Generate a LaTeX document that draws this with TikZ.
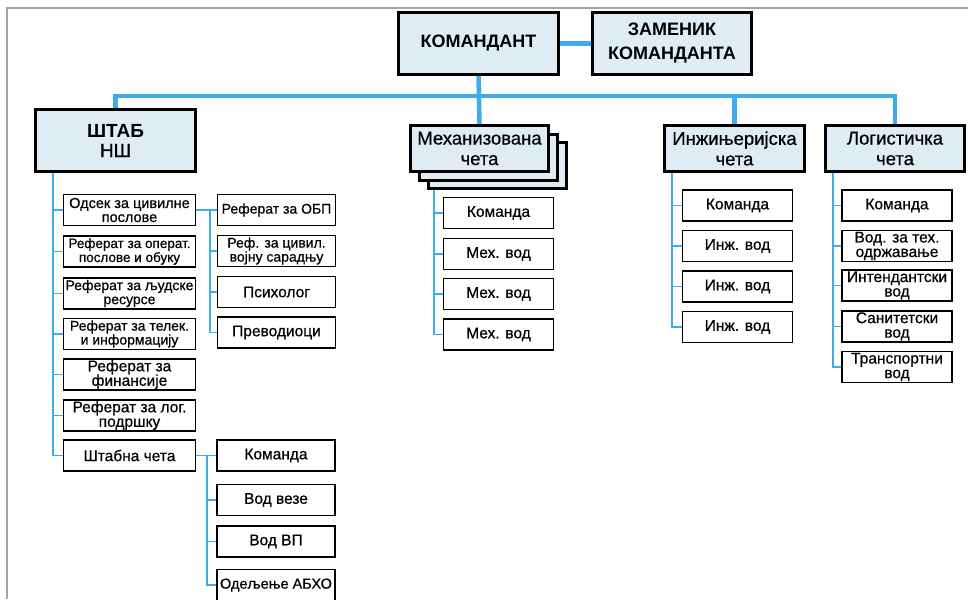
\documentclass[tikz,border=0pt]{standalone}
\usepackage{fontspec}
\setmainfont{Liberation Sans}[UprightFeatures={FakeBold=0.6}]

\definecolor{linkblue}{RGB}{62,172,235}
\definecolor{headfill}{RGB}{224,236,244}
\definecolor{framegray}{RGB}{165,165,165}

\tikzstyle{headbox} = [draw, line width=3pt, fill=headfill, align=center, inner sep=0]
\tikzstyle{chetabox} = [headbox, minimum height=46pt, font=\fontsize{18.5}{20.5}\selectfont]
\tikzstyle{unitbox} = [draw, line width=1.4pt, fill=white, align=center, inner sep=0,
                       minimum height=31pt, font=\fontsize{15.5}{14.5}\selectfont]
\tikzstyle{stabunit} = [unitbox, minimum width=131.5pt]
\tikzstyle{sideunit} = [unitbox, minimum width=118pt]
\tikzstyle{vodunit} = [unitbox, minimum width=110pt]
\tikzstyle{narrow} = [font=\fontsize{14}{14}\selectfont]
\tikzstyle{narrower} = [font=\fontsize{13.5}{14}\selectfont]
\tikzstyle{bus} = [linkblue, line width=4.5pt]
\tikzstyle{branch} = [linkblue, line width=1.3pt]

\begin{document}
\begin{tikzpicture}[x=1pt, y=-1pt]
  \useasboundingbox (0,0) rectangle (968,599);
  \draw[framegray, line width=1.2pt] (7,599) -- (7,8) -- (968,8);

  % command level
  \node at (478.5, 43.5) [headbox, minimum width=160pt, minimum height=62pt,
        font=\fontsize{18}{24}\selectfont\bfseries] (kom) {КОМАНДАНТ};
  \node at (672, 43.5) [headbox, minimum width=159pt, minimum height=62pt,
        font=\fontsize{18}{24}\selectfont\bfseries] (zam) {ЗАМЕНИК\\КОМАНДАНТА};

  \node at (115.5, 140.5) [headbox, minimum width=160pt, minimum height=62pt,
        font=\fontsize{19}{20}\selectfont] (stab) {\textbf{ШТАБ}\\НШ};

  \node at (497.5, 165.5) [chetabox, minimum width=138pt] (mech3) {};
  \node at (488.5, 157) [chetabox, minimum width=138pt] (mech2) {};
  \node at (479.5, 148.5) [chetabox, minimum width=138pt] (mech) {Механизована\\чета};
  \node at (734.5, 148.5) [chetabox, minimum width=140pt] (inz) {Инжињеријска\\чета};
  \node at (895, 148.5) [chetabox, minimum width=139pt] (log) {Логистичка\\чета};

  % staff
  \node at (129.5, 210) [stabunit, font=\fontsize{14.5}{14}\selectfont] (odsek) {Одсек за цивилне\\послове};
  \node at (129.5, 251.5) [stabunit, narrower] (oper) {Реферат за операт.\\послове и обуку};
  \node at (129.5, 293.5) [stabunit, narrow] (ljud) {Реферат за људске\\ресурсе};
  \node at (129.5, 334) [stabunit, narrow] (tel) {Реферат за телек.\\и информацију};
  \node at (129.5, 374.5) [stabunit] (fin) {Реферат за\\финансије};
  \node at (129.5, 415.5) [stabunit] (lpod) {Реферат за лог.\\подршку};
  \node at (129.5, 455.5) [stabunit] (stc) {Штабна чета};

  \node at (276.5, 210) [sideunit, narrow] (obp) {Реферат за ОБП};
  \node at (276.5, 251) [sideunit, narrow] (civ) {Реф. за цивил.\\војну сарадњу};
  \node at (276.5, 292) [sideunit] (psi) {Психолог};
  \node at (276.5, 332.5) [sideunit] (prev) {Преводиоци};

  \node at (276, 455.5) [sideunit] (stk) {Команда};
  \node at (276, 500) [sideunit] (vveze) {Вод везе};
  \node at (276, 541.5) [sideunit] (vvp) {Вод ВП};
  \node at (276, 585) [sideunit, font=\fontsize{14.5}{14}\selectfont] (abho) {Одељење АБХО};

  % companies
  \node at (498.5, 213) [vodunit] (mk) {Команда};
  \node at (498.5, 254) [vodunit] (mv1) {Мех. вод};
  \node at (498.5, 294) [vodunit] (mv2) {Мех. вод};
  \node at (498.5, 334.5) [vodunit] (mv3) {Мех. вод};

  \node at (737.5, 205.5) [vodunit] (ik) {Команда};
  \node at (737.5, 246) [vodunit] (iv1) {Инж. вод};
  \node at (737.5, 286.5) [vodunit] (iv2) {Инж. вод};
  \node at (737.5, 327) [vodunit] (iv3) {Инж. вод};

  \node at (897, 205.5) [vodunit] (lk) {Команда};
  \node at (897, 246) [vodunit] (lth) {Вод. за тех.\\одржавање};
  \node at (897, 285.5) [vodunit] (lint) {Интендантски\\вод};
  \node at (897, 326.5) [vodunit] (lsan) {Санитетски\\вод};
  \node at (897, 367) [vodunit] (ltr) {Транспортни\\вод};

  % links
  \coordinate (busy) at (0, 96);
  \draw[bus] (kom) -- (zam);
  \draw[bus] (kom.south) -- (mech.north);
  \draw[bus] (stab.north) -- (stab.north |- busy) -| (log.north);
  \draw[bus] (inz.north) -- (inz.north |- busy);

  \coordinate (stabb) at ([xshift=19pt]stab.south west);
  \coordinate (odsekb) at ([xshift=14pt]odsek.east);
  \coordinate (stcb) at ([xshift=11pt]stc.east);
  \coordinate (mechb) at ([xshift=7pt]mech3.south west);
  \coordinate (inzb) at ([xshift=9pt]inz.south west);
  \coordinate (logb) at ([xshift=9pt]log.south west);

  \draw[branch]
     (stabb) |- (odsek.west)
     (stabb) |- (oper.west)
     (stabb) |- (ljud.west)
     (stabb) |- (tel.west)
     (stabb) |- (fin.west)
     (stabb) |- (lpod.west)
     (stabb) |- (stc.west)

     (odsek.east) -- (obp.west)
     (odsekb) |- (civ.west)
     (odsekb) |- (psi.west)
     (odsekb) |- (prev.west)

     (stc.east) -- (stk.west)
     (stcb) |- (vveze.west)
     (stcb) |- (vvp.west)
     (stcb) |- (abho.west)

     (mechb) |- (mk.west)
     (mechb) |- (mv1.west)
     (mechb) |- (mv2.west)
     (mechb) |- (mv3.west)

     (inzb) |- (ik.west)
     (inzb) |- (iv1.west)
     (inzb) |- (iv2.west)
     (inzb) |- (iv3.west)

     (logb) |- (lk.west)
     (logb) |- (lth.west)
     (logb) |- (lint.west)
     (logb) |- (lsan.west)
     (logb) |- (ltr.west);
\end{tikzpicture}
\end{document}
